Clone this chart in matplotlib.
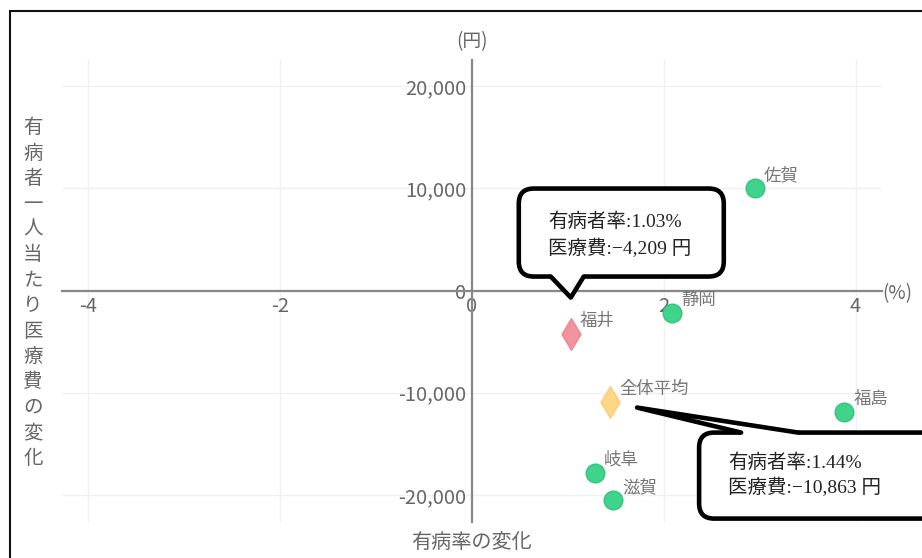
import matplotlib
matplotlib.use('Agg')
import matplotlib.pyplot as plt
from matplotlib.patches import FancyBboxPatch, Polygon, Rectangle
from matplotlib.lines import Line2D
from matplotlib.transforms import IdentityTransform
from matplotlib.ticker import FuncFormatter, FixedLocator

# ---------------- data ----------------
prefectures = ['佐賀', '静岡', '福島', '岐阜', '滋賀']
prev_change = [2.95, 2.09, 3.88, 1.28, 1.47]          # 有病率の変化 (%)
cost_change = [10000, -2200, -11900, -17800, -20500]  # 医療費の変化 (円)

highlight_name = '福井'
highlight_x = 1.03
highlight_y = -4209

avg_name = '全体平均'
avg_x = 1.44
avg_y = -10863

x_ticks = [-4, -2, 0, 2, 4]
y_ticks = [-20000, -10000, 0, 10000, 20000]

x_label = '有病率の変化'
y_label = '有病者一人当たり医療費の変化'
x_unit = '(%)'
y_unit = '(円)'

callout1_lines = ['有病者率:1.03%', '医療費:−4,209 円']
callout2_lines = ['有病者率:1.44%', '医療費:−10,863 円']

# ---------------- style ----------------
W, H = 922, 558
SANS = ['Noto Sans CJK JP', 'DejaVu Sans']
SERIF = ['Liberation Serif', 'Noto Sans CJK JP']
plt.rcParams['font.family'] = SANS
plt.rcParams['axes.unicode_minus'] = False

fig = plt.figure(figsize=(W / 100, H / 100), dpi=100)


def rect(x0, y0, x1, y1):
    return [x0 / W, 1 - y1 / H, (x1 - x0) / W, (y1 - y0) / H]


ax = fig.add_axes(rect(62, 60, 882, 522))
ax.set_xlim(-4.275, 4.275)
ax.set_ylim(-22640, 22543)

for s in ['top', 'right']:
    ax.spines[s].set_visible(False)
for s in ['left', 'bottom']:
    ax.spines[s].set_position(('data', 0))
    ax.spines[s].set_color('#888888')
    ax.spines[s].set_linewidth(1.6)

ax.xaxis.set_major_locator(FixedLocator(x_ticks))
ax.yaxis.set_major_locator(FixedLocator(y_ticks))
ax.xaxis.set_major_formatter(FuncFormatter(lambda v, p: f'{v:g}'))
ax.yaxis.set_major_formatter(FuncFormatter(lambda v, p: f'{int(v):,}'))
ax.tick_params(length=0, labelcolor='#666666', labelsize=14.5)
ax.tick_params(axis='x', pad=4)
ax.tick_params(axis='y', pad=4)
ax.grid(True, color='#f0f0f0', linewidth=1)
ax.set_axisbelow(True)

# points
ax.scatter(prev_change, cost_change, s=180, c='#40d38b', edgecolors='#34c47d',
           linewidths=1, zorder=4)
ax.scatter([highlight_x], [highlight_y], s=260, marker='d', c='#f1949f',
           edgecolors='#ec8795', linewidths=1, zorder=4)
ax.scatter([avg_x], [avg_y], s=260, marker='d', c='#fed686',
           edgecolors='#fbcd78', linewidths=1, zorder=4)

all_names = prefectures + [highlight_name, avg_name]
all_x = prev_change + [highlight_x, avg_x]
all_y = cost_change + [highlight_y, avg_y]
for n, x, y in zip(all_names, all_x, all_y):
    ax.annotate(n, (x, y), xytext=(6.5, 9.4), textcoords='offset points',
                ha='left', va='center', fontsize=12.5, color='#777777',
                family=SANS, zorder=5)

# axis units / labels
fig.text(472 / W, 1 - 42 / H, y_unit, ha='center', va='center',
         fontsize=13.5, color='#666666', family=SANS)
fig.text(882 / W, 1 - 294 / H, x_unit, ha='left', va='center',
         fontsize=13.5, color='#666666', family=SANS)
fig.text(472 / W, 1 - 543 / H, x_label, ha='center', va='center',
         fontsize=14.5, color='#666666', family=SANS)
for i, ch in enumerate(y_label):
    fig.text(33 / W, 1 - (128 + i * 25.4) / H, ch, ha='center', va='center',
             fontsize=14, color='#666666', family=SANS)

# ---------------- callouts ----------------
ID = IdentityTransform()


def to_img(x, y):
    dx, dy = ax.transData.transform((x, y))
    return dx, H - dy


def D(ix, iy):
    return (ix, H - iy)


def callout(anchor, box, tail, text_pos, lines, lw=3.3):
    ax_, ay_ = to_img(*anchor)
    bx0, by0, bx1, by1 = box
    x0, y0 = ax_ + bx0, ay_ + by0
    x1, y1 = ax_ + bx1, ay_ + by1
    p = FancyBboxPatch(D(x0, y1), x1 - x0, y1 - y0,
                       boxstyle='round,pad=0,rounding_size=15',
                       facecolor='white', edgecolor='black', linewidth=lw,
                       transform=ID, zorder=10)
    fig.add_artist(p)
    (blx, bly), (tx, ty), (brx, bry), inside = tail
    blx, bly = ax_ + blx, ay_ + bly
    brx, bry = ax_ + brx, ay_ + bry
    tx, ty = ax_ + tx, ay_ + ty
    poly = Polygon([D(blx, bly + inside), D(blx, bly), D(tx, ty), D(brx, bry),
                    D(brx, bry + inside)], closed=True, facecolor='white',
                   edgecolor='none', transform=ID, zorder=11)
    fig.add_artist(poly)
    ln = Line2D([D(blx, bly)[0], D(tx, ty)[0], D(brx, bry)[0]],
                [D(blx, bly)[1], D(tx, ty)[1], D(brx, bry)[1]],
                color='black', linewidth=lw, solid_joinstyle='round',
                solid_capstyle='round', transform=ID, zorder=12)
    fig.add_artist(ln)
    tx0, ty0, dy = text_pos
    for k, t in enumerate(lines):
        fig.text((ax_ + tx0) / W, 1 - (ay_ + ty0 + k * dy) / H, t,
                 ha='left', va='center', fontsize=14, color='#222222',
                 family=SERIF, zorder=13)


callout((highlight_x, highlight_y), (-52, -145, 153, -57),
        ((-20, -57), (0, -36), (13, -57), -4), (-23, -112, 27),
        callout1_lines)
callout((avg_x, avg_y), (89, 31, 340, 117),
        ((131, 31), (27, 6), (188, 31), 4), (118, 61, 25),
        callout2_lines)

# outer frame (cropped screenshot border)
fig.add_artist(Rectangle((10, -20), 960, H - 11 + 20, facecolor='none',
                         edgecolor='#111111', linewidth=1.5, transform=ID,
                         zorder=20))

fig.savefig('out.png', dpi=100)
